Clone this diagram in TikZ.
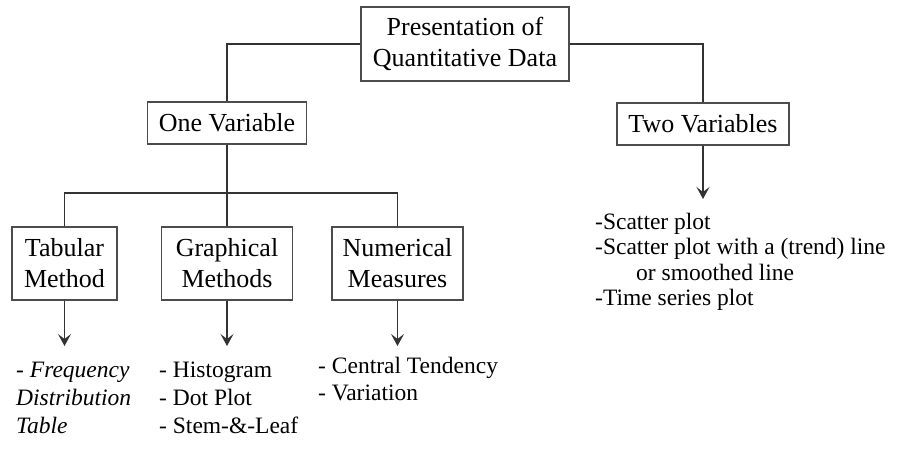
\documentclass[tikz,border=0pt]{standalone}
\usepackage{fontspec}
\setmainfont{Liberation Serif}
\usetikzlibrary{arrows.meta}

\tikzstyle{box} = [draw=black!70,line width=1.2pt,inner sep=0pt,align=center,font=\fontsize{26}{31}\selectfont]
\tikzstyle{items} = [inner sep=0pt,align=left,anchor=base west,font=\fontsize{23.5}{28}\selectfont]
\tikzstyle{link} = [draw=black!80,line width=1.2pt]

\begin{document}
\begin{tikzpicture}[x=1pt,y=-1pt]
		\useasboundingbox (0,0) rectangle (912,452);
		\node[box,minimum width=208pt,minimum height=74pt] (data) at (465,44) {Presentation of\\Quantitative Data};
		\node[box,minimum width=159pt,minimum height=42pt] (one) at (227,123) {One Variable};
		\node[box,minimum width=172pt,minimum height=42pt] (two) at (703,124) {Two Variables};
		\node[box,minimum width=105pt,minimum height=73pt] (tab) at (64.5,263.5) {Tabular\\Method};
		\node[box,minimum width=131pt,minimum height=73pt] (graph) at (227,263.5) {Graphical\\Methods};
		\node[box,minimum width=131pt,minimum height=73pt] (num) at (397.5,263.5) {Numerical\\Measures};
		\coordinate (split) at (227,193);
		\coordinate (tabend) at (64.5,346);
		\coordinate (graphend) at (227,346);
		\coordinate (numend) at (397.5,346);
		\coordinate (twoend) at (703,199);
		\draw[link] (data.west) -| (one.north);
		\draw[link] (data.east) -| (two.north);
		\draw[link] (one.south) -- (split);
		\draw[link] (tab.north) |- (split) -| (num.north);
		\draw[link] (split) -- (graph.north);
		\draw[link,-{Stealth[length=12pt,width=13pt,inset=5pt]}] (tab.south) -- (tabend);
		\draw[link,-{Stealth[length=12pt,width=13pt,inset=5pt]}] (graph.south) -- (graphend);
		\draw[link,-{Stealth[length=12pt,width=13pt,inset=5pt]}] (num.south) -- (numend);
		\draw[link,-{Stealth[length=12pt,width=13pt,inset=5pt]}] (two.south) -- (twoend);

		% lists are placed by the baseline of their last line
		\node[items] (tablist) at (16,433) {\itshape - Frequency\\\itshape Distribution\\\itshape Table};
		\node[items] (graphlist) at (159,433) {- Histogram\\- Dot Plot\\- Stem-\&-Leaf};
		\node[items,font=\fontsize{23.5}{27}\selectfont] (numlist) at (318,400) {- Central Tendency\\- Variation};
		\node[items,font=\fontsize{23.5}{25.5}\selectfont] (twolist) at (595,305.5) {-Scatter plot\\-Scatter plot with a (trend) line\\\hspace*{41pt}or smoothed line\\-Time series plot};
\end{tikzpicture}
\end{document}
